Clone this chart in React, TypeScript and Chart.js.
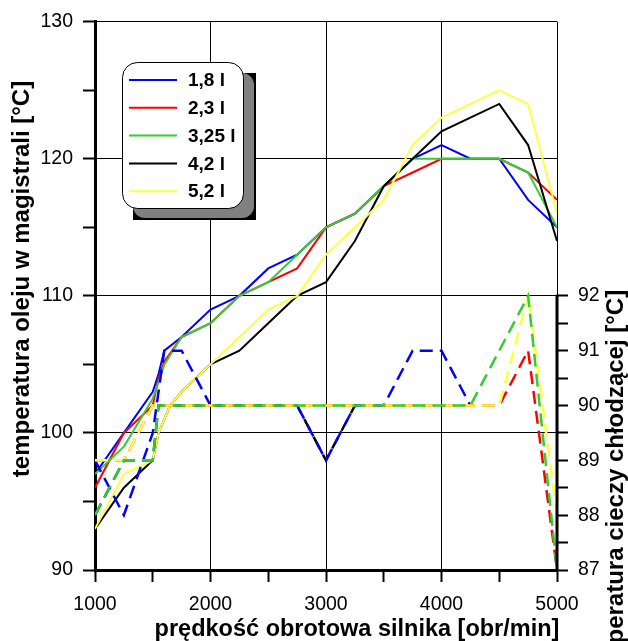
import { useEffect, useRef } from 'react';
import { Chart, registerables } from 'chart.js';

Chart.register(...registerables);

// engine speed [obr/min] (shared x positions)
const rpm = [1000, 1250, 1500, 1550, 1600, 1650, 1750, 2000, 2250, 2500, 2750, 3000, 3250, 3500, 3750, 4000, 4250, 4500, 4750, 5000];

const seriesLabels = ['1,8 l', '2,3 l', '3,25 l', '4,2 l', '5,2 l'];
const seriesColors = ['#0000ff', '#ff0000', '#33cc33', '#000000', '#ffff40'];

// oil temperature in main gallery [°C] (left axis)
const oil18 = [97, 100, 103, 104.3, 106, null, 107, 109, 110, 112, 113, 115, 116, 118, 120, 121, 120, 120, 117, 115];
const oil23 = [96, 100, 102, 104, 105.2, null, 107, 108, 110, 111, 112, 115, 116, 118, 119, 120, 120, 120, 119, 117];
const oil325 = [97, 99, 102.5, 103.7, 105, null, 107, 108, 110, 111, 113, 115, 116, 118, 120, 120, 120, 120, 119, 115];
const oil42 = [93, 96, 98, 100, null, 102, 103, 105, 106, 108, 110, 111, 114, 118, 120, 122, 123, 124, 121, 114];
const oil52 = [93, 97, 98, 100, null, 102, 103, 105, 107, 109, 110, 113, 115, 117, 121, 123, 124, 125, 124, 116];

// coolant temperature [°C] (right axis, dashed)
const cool18 = [89, 88, 89.5, null, 91, null, 91, 90, 90, 90, 90, 89, 90, 90, 91, 91, 90, null, null, null];
const cool23 = [89, 89, 90, null, null, null, 90, 90, 90, 90, 90, 90, 90, 90, 90, 90, 90, 90, 91, 87];
const cool325 = [88, 89, 89, 90, null, null, 90, 90, 90, 90, 90, 90, 90, 90, 90, 90, 90, null, 92, 87];
const cool42 = [88, 89, 89, 90, null, null, 90, 90, 90, 90, 90, 89, 90, null, null, null, null, null, null, null];
const cool52 = [89, 89, 90, null, null, null, 90, 90, 90, 90, 90, 90, 90, 90, 90, 90, 90, 90, 92, 88];

const xTitle = 'prędkość obrotowa silnika [obr/min]';
const yTitle = 'temperatura oleju w magistrali [°C]';
const y2Title = 'temperatura cieczy chłodzącej [°C]';

const FONT = '"Liberation Sans", Arial, sans-serif';

const toPoints = (vals: (number | null)[]) =>
  rpm.map((x, i) => ({ x, y: vals[i] })).filter((p) => p.y !== null);

const decorPlugin = {
  id: 'decor',
  afterDraw(chart: any) {
    const ctx = chart.ctx;
    const area = chart.chartArea;
    const y2 = chart.scales.y2;
    ctx.save();
    // thick right axis segment for coolant scale
    ctx.strokeStyle = '#000';
    ctx.lineWidth = 3;
    ctx.beginPath();
    ctx.moveTo(area.right, y2.getPixelForValue(92) - 1);
    ctx.lineTo(area.right, y2.getPixelForValue(87) + 1.5);
    ctx.stroke();

    // titles
    ctx.fillStyle = '#000';
    ctx.textAlign = 'center';
    ctx.textBaseline = 'middle';
    ctx.font = `bold 23.5px ${FONT}`;
    ctx.fillText(xTitle, 357, 630);

    ctx.font = `bold 24px ${FONT}`;
    ctx.save();
    ctx.translate(22, 279);
    ctx.rotate(-Math.PI / 2);
    ctx.fillText(yTitle, 0, 0);
    ctx.restore();

    ctx.save();
    ctx.translate(616, 488);
    ctx.rotate(-Math.PI / 2);
    ctx.fillText(y2Title, 0, 0);
    ctx.restore();

    // legend with shadow
    const rr = (x: number, y: number, w: number, h: number, r: number) => {
      ctx.beginPath();
      ctx.moveTo(x + r, y);
      ctx.lineTo(x + w - r, y);
      ctx.arcTo(x + w, y, x + w, y + r, r);
      ctx.lineTo(x + w, y + h - r);
      ctx.arcTo(x + w, y + h, x + w - r, y + h, r);
      ctx.lineTo(x + r, y + h);
      ctx.arcTo(x, y + h, x, y + h - r, r);
      ctx.lineTo(x, y + r);
      ctx.arcTo(x, y, x + r, y, r);
      ctx.closePath();
    };
    ctx.fillStyle = '#000';
    ctx.fillRect(133, 73, 123, 147);
    ctx.fillStyle = '#808080';
    rr(133, 73, 121, 145, 12);
    ctx.fill();
    ctx.fillStyle = '#fff';
    rr(122.5, 62.5, 121, 146, 15);
    ctx.fill();
    ctx.strokeStyle = '#000';
    ctx.lineWidth = 1;
    ctx.stroke();

    const items = chart.data.datasets.filter((d: any) => d.yAxisID === 'y');
    ctx.font = `bold 19px ${FONT}`;
    ctx.textAlign = 'left';
    items.forEach((d: any, i: number) => {
      const yy = 80 + i * 27.8;
      ctx.strokeStyle = d.borderColor;
      ctx.lineWidth = 2;
      ctx.beginPath();
      ctx.moveTo(129, yy);
      ctx.lineTo(177, yy);
      ctx.stroke();
      ctx.fillStyle = '#000';
      ctx.fillText(d.label, 188, yy + 1);
    });
    ctx.restore();
  },
};

export default function App() {
  const ref = useRef<HTMLCanvasElement>(null);
  useEffect(() => {
    if (!ref.current) return;
    const oil = [oil18, oil23, oil325, oil42, oil52];
    const cool = [cool18, cool23, cool325, cool42, cool52];
    const coolOrder = [10, 9, 7, 11, 8];
    const datasets: any[] = [];
    oil.forEach((vals, i) => {
      datasets.push({
        label: seriesLabels[i],
        data: toPoints(vals),
        yAxisID: 'y',
        borderColor: seriesColors[i],
        borderWidth: 2,
        pointRadius: 0,
        fill: false,
        tension: 0,
        order: 20 - i,
      });
    });
    cool.forEach((vals, i) => {
      datasets.push({
        label: seriesLabels[i] + ' (ciecz)',
        data: toPoints(vals),
        yAxisID: 'y2',
        borderColor: seriesColors[i],
        borderWidth: 2.5,
        borderDash: [13, 7],
        pointRadius: 0,
        fill: false,
        tension: 0,
        order: coolOrder[i],
      });
    });

    const tickFont = { family: FONT, size: 19.5 };
    const chart = new Chart(ref.current, {
      type: 'line',
      data: { datasets },
      options: {
        animation: false,
        responsive: false,
        layout: { padding: { top: 18, left: 0, right: 0, bottom: 0 } },
        plugins: { legend: { display: false }, tooltip: { enabled: false } },
        scales: {
          x: {
            type: 'linear',
            min: 1000,
            max: 5000,
            ticks: {
              stepSize: 500,
              autoSkip: false,
              maxRotation: 0,
              padding: 11,
              color: '#000',
              font: tickFont,
              callback: (v: any) => (v % 1000 === 0 ? String(v) : ''),
            },
            grid: {
              color: (c: any) => (c.tick && c.tick.value % 1000 === 0 ? '#000' : 'rgba(0,0,0,0)'),
              tickColor: '#000',
              tickLength: 12,
              tickWidth: 2,
              lineWidth: 1,
            },
            border: { color: '#000', width: 3 },
            afterFit: (s: any) => {
              s.height = 71;
            },
          },
          y: {
            position: 'left',
            min: 90,
            max: 130,
            ticks: {
              stepSize: 5,
              autoSkip: false,
              padding: 10,
              color: '#000',
              font: tickFont,
              callback: (v: any) => (v % 10 === 0 ? String(v) : ''),
            },
            grid: {
              color: (c: any) => (c.tick && c.tick.value % 10 === 0 ? '#000' : 'rgba(0,0,0,0)'),
              tickColor: '#000',
              tickLength: 12,
              tickWidth: 2,
              lineWidth: 1,
            },
            border: { color: '#000', width: 3 },
            afterFit: (s: any) => {
              s.width = 95;
            },
          },
          y2: {
            position: 'right',
            min: 87,
            max: 97,
            ticks: {
              stepSize: 0.5,
              autoSkip: false,
              padding: 10,
              color: '#000',
              font: tickFont,
              callback: (v: any) => (Number.isInteger(v) ? String(v) : ''),
            },
            afterBuildTicks: (s: any) => {
              s.ticks = s.ticks.filter((t: any) => t.value <= 92.0001);
            },
            grid: {
              drawOnChartArea: false,
              tickColor: '#000',
              tickLength: 11,
              tickWidth: 2,
            },
            border: { display: false },
            afterFit: (s: any) => {
              s.width = 71;
            },
          },
        },
      } as any,
      plugins: [decorPlugin],
    });
    return () => chart.destroy();
  }, []);

  return (
    <div style={{ position: 'fixed', left: 0, top: 0, width: 628, height: 641, background: '#fff' }}>
      <canvas ref={ref} width={628} height={641} style={{ width: 628, height: 641 }} />
    </div>
  );
}
